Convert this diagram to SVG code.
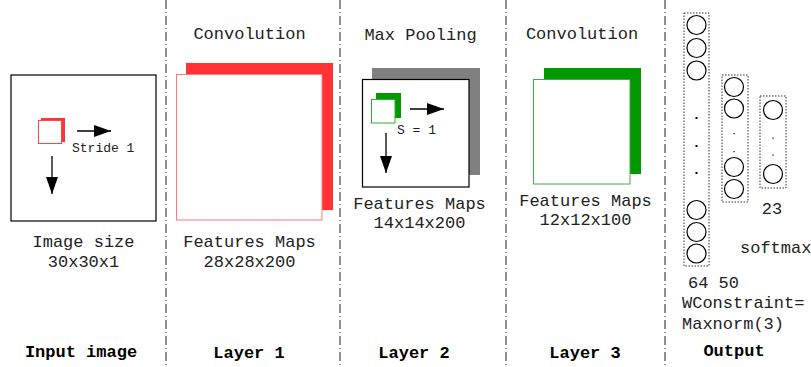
<svg xmlns="http://www.w3.org/2000/svg" width="811" height="367" viewBox="0 0 811 367">
<style>
text{font-family:"Liberation Mono","Courier New",monospace;font-size:17px;fill:#222;}
.b{font-weight:bold;fill:#000;}
.s{font-size:13px;}
.div{stroke:#444;stroke-width:1.2;stroke-dasharray:9 3 1 3;fill:none;}
.dot{fill:none;stroke:#333;stroke-width:1;stroke-dasharray:1.5 1.5;}
.n{fill:#fff;stroke:#000;stroke-width:1.2;}
.arr{stroke:#000;stroke-width:1.3;fill:none;}
</style>
<defs>
<marker id="ah" markerWidth="17" markerHeight="12" refX="17" refY="6" orient="auto" markerUnits="userSpaceOnUse">
<path d="M0,0 L17,6 L0,12 Z" fill="#000"/>
</marker>
</defs>
<rect width="811" height="367" fill="#fff"/>

<g id="dividers">
<line class="div" x1="166" y1="0" x2="166" y2="367"/>
<line class="div" x1="340" y1="0" x2="340" y2="367"/>
<line class="div" x1="506" y1="0" x2="506" y2="367"/>
<line class="div" x1="665" y1="0" x2="665" y2="367"/>
</g>

<g id="input">
<rect x="11" y="75" width="145" height="146" fill="#fff" stroke="#000" stroke-width="1.2"/>
<rect x="41" y="118" width="24" height="24" fill="#ff3333"/>
<rect x="38.5" y="120.5" width="23" height="23" fill="#fff" stroke="#ff4444" stroke-width="1"/>
<text class="s" x="72" y="152">Stride 1</text>
<text x="83.5" y="247" text-anchor="middle">Image size</text>
<text x="83.5" y="267" text-anchor="middle">30x30x1</text>
<text class="b" x="81" y="357" text-anchor="middle">Input image</text>
</g>

<g id="layer1">
<text x="249.5" y="39" text-anchor="middle">Convolution</text>
<rect x="186" y="63" width="147" height="147" fill="#ff3333"/>
<rect x="176.5" y="74.5" width="145.5" height="145.5" fill="#fff" stroke="#ff7777" stroke-width="1"/>
<text x="249.5" y="247" text-anchor="middle">Features Maps</text>
<text x="249.5" y="267" text-anchor="middle">28x28x200</text>
<text class="b" x="249" y="358" text-anchor="middle">Layer 1</text>
</g>

<g id="layer2">
<text x="420.5" y="40" text-anchor="middle">Max Pooling</text>
<rect x="372" y="68" width="108" height="107" fill="#808080"/>
<rect x="362.5" y="79.5" width="106.5" height="107.5" fill="#fff" stroke="#000" stroke-width="1.2"/>
<rect x="376" y="93" width="25" height="25" fill="#009900"/>
<rect x="371.5" y="99.5" width="23.5" height="23.5" fill="#fff" stroke="#33aa33" stroke-width="1"/>
<text class="s" x="397" y="134">S = 1</text>
<text x="419.5" y="209" text-anchor="middle">Features Maps</text>
<text x="419.5" y="228" text-anchor="middle">14x14x200</text>
<text class="b" x="414" y="358" text-anchor="middle">Layer 2</text>
</g>

<g id="layer3">
<text x="582" y="39" text-anchor="middle">Convolution</text>
<rect x="544" y="68" width="97" height="106" fill="#009900"/>
<rect x="533.5" y="79.5" width="96.5" height="104.5" fill="#fff" stroke="#44aa44" stroke-width="1"/>
<text x="585.5" y="206" text-anchor="middle">Features Maps</text>
<text x="585.5" y="225" text-anchor="middle">12x12x100</text>
<text class="b" x="585" y="358" text-anchor="middle">Layer 3</text>
</g>

<g id="output">
<rect class="dot" x="684" y="13" width="25" height="253"/>
<circle class="n" cx="696.5" cy="25" r="9.5"/>
<circle class="n" cx="696.5" cy="48" r="9.5"/>
<circle class="n" cx="696.5" cy="70.5" r="9.5"/>
<rect x="695.5" y="117" width="2" height="2" fill="#000"/>
<rect x="695.5" y="145" width="2" height="2" fill="#000"/>
<rect x="695.5" y="172" width="2" height="2" fill="#000"/>
<circle class="n" cx="696.5" cy="210" r="9.5"/>
<circle class="n" cx="696.5" cy="232" r="9.5"/>
<circle class="n" cx="696.5" cy="253.5" r="9.5"/>

<rect class="dot" x="722" y="75" width="26" height="127"/>
<circle class="n" cx="734" cy="87" r="9.5"/>
<circle class="n" cx="734" cy="108.5" r="9.5"/>
<rect x="733.5" y="133" width="1.2" height="1.2" fill="#000"/>
<rect x="733.5" y="151" width="1.2" height="1.2" fill="#000"/>
<circle class="n" cx="734" cy="167" r="9.5"/>
<circle class="n" cx="734" cy="189" r="9.5"/>

<rect class="dot" x="760" y="96" width="26" height="92"/>
<circle class="n" cx="773" cy="110" r="9.5"/>
<rect x="772.5" y="137.5" width="1.2" height="1.2" fill="#000"/>
<rect x="772.5" y="154.5" width="1.2" height="1.2" fill="#000"/>
<circle class="n" cx="773" cy="174" r="9.5"/>

<text x="772" y="214" text-anchor="middle">23</text>
<text x="740" y="253">softmax</text>
<text x="688" y="288">64 50</text>
<text x="682" y="308">WConstraint=</text>
<text x="682" y="329">Maxnorm(3)</text>
<text class="b" x="734" y="356" text-anchor="middle">Output</text>
</g>

<g id="connectors">
<line class="arr" x1="77" y1="131" x2="111" y2="131" marker-end="url(#ah)"/>
<line class="arr" x1="52" y1="156" x2="52" y2="194" marker-end="url(#ah)"/>
<line class="arr" x1="410" y1="109" x2="444" y2="109" marker-end="url(#ah)"/>
<line class="arr" x1="386" y1="133" x2="386" y2="173" marker-end="url(#ah)"/>
</g>
</svg>
